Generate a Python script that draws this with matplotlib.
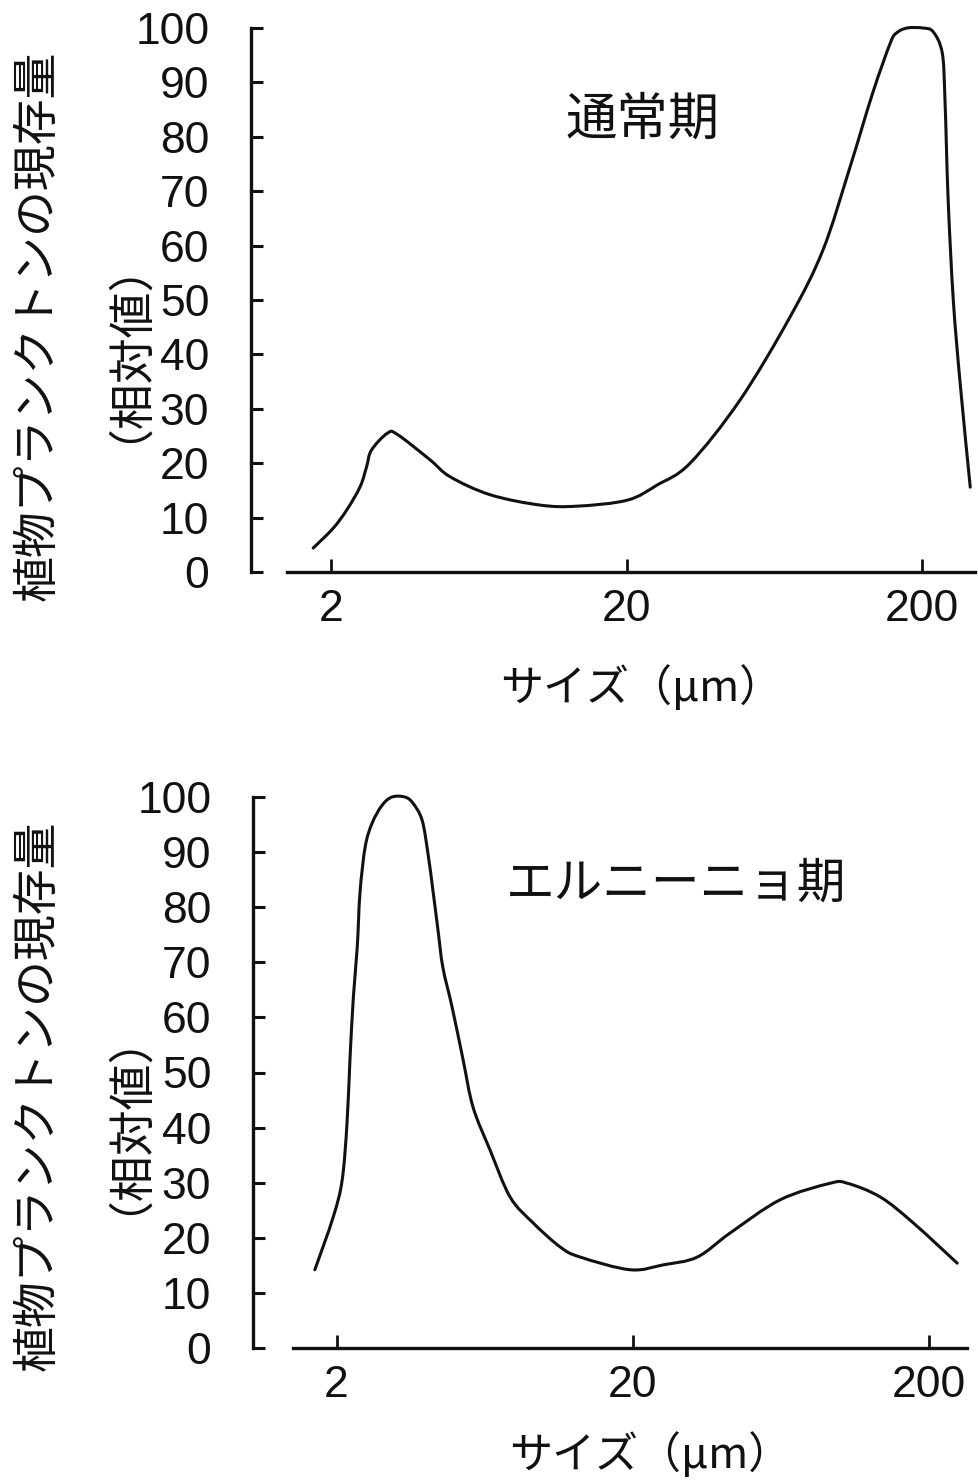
import matplotlib
matplotlib.use("Agg")
import numpy as np
import matplotlib.pyplot as plt
from matplotlib.path import Path
from matplotlib.patches import PathPatch
from matplotlib.ticker import FixedLocator, NullLocator, FixedFormatter

plt.rcParams['font.family'] = ['Liberation Sans', 'Noto Sans CJK JP', 'DejaVu Sans']

# ---- data ----
normal_size = [1.74, 2.03, 2.26, 2.51, 2.64, 2.74, 3.10, 3.35, 4.33, 5.06, 6.91,
               10.2, 13.6, 20.1, 25.4, 32.8, 48.4, 71.5, 92.4, 114, 136, 156,
               164, 178, 201, 218, 234, 239, 245, 255, 269, 291]
normal_val = [4.4, 8.0, 11.4, 15.7, 19.4, 22.4, 25.5, 25.3, 20.6, 17.5, 14.2,
              12.3, 12.1, 13.2, 16.0, 20.0, 31.6, 46.9, 59.2, 74.4, 88.0, 97.2,
              99.1, 100, 100, 99.3, 95.4, 86.8, 68.4, 50.0, 34.7, 15.6]

nino_size = [1.69, 1.95, 2.09, 2.17, 2.22, 2.28, 2.35, 2.40, 2.50, 2.64, 2.85,
             3.08, 3.40, 3.62, 3.89, 4.07, 4.23, 4.40, 4.57, 4.91, 5.35, 5.78,
             6.60, 7.71, 9.22, 11.4, 13.3, 19.6, 25.4, 33.0, 42.7, 62.9, 92.8,
             106, 137, 177, 249]
nino_val = [14.2, 23.8, 30.5, 40.8, 52.3, 63.7, 72.8, 82.6, 91.0, 95.3, 98.5,
            100, 100, 98.9, 95.8, 89.8, 83.1, 75.9, 69.1, 61.9, 52.3, 43.7,
            35.9, 27.4, 22.7, 18.3, 16.5, 14.2, 15.1, 16.5, 20.9, 26.9, 29.9,
            29.9, 27.4, 22.7, 15.4]

x_ticks = [2, 20, 200]
x_tick_labels = ['2', '20', '200']
y_ticks = list(range(0, 101, 10))
y_tick_labels = [str(v) for v in y_ticks]

ylabel_main = '植物プランクトンの現存量'
ylabel_sub = '（相対値）'
xlabel = 'サイズ（μm）'
titles = ['通常期', 'エルニーニョ期']

W, H = 979, 1481
fig = plt.figure(figsize=(W / 100, H / 100), dpi=100)

JP = ['Noto Sans CJK JP', 'DejaVu Sans']
INK = '#111111'


def smooth_curve(ax, xs, ys, **kw):
    """Draw a smooth curve through the read points (Catmull-Rom as Bezier),
    computed in display space so both scales are respected."""
    pts = ax.transData.transform(np.column_stack([xs, ys]))
    n = len(pts)
    ext = np.vstack([pts[0], pts, pts[-1]])
    verts = [pts[0]]
    codes = [Path.MOVETO]
    for i in range(n - 1):
        p0, p1, p2, p3 = ext[i], ext[i + 1], ext[i + 2], ext[i + 3]
        c1 = p1 + (p2 - p0) / 6.0
        c2 = p2 - (p3 - p1) / 6.0
        verts += [c1, c2, p2]
        codes += [Path.CURVE4] * 3
    path = Path(np.array(verts), codes)
    patch = PathPatch(path, fill=False, **kw)
    patch.set_transform(matplotlib.transforms.IdentityTransform())
    fig.add_artist(patch)


panels = [
    dict(l=251, r=975, y0=572, y100=28, xlim=(1.072, 302), xstart=1.42,
         xs=normal_size, ys=normal_val, title=titles[0], tsize=37, tpos=(643, 120),
         xlpos=(641, 688), yl1=(37, 326), yl2=(103, 328)),
    dict(l=253, r=967, y0=1348, y100=797, xlim=(1.045, 268.7), xstart=1.426,
         xs=nino_size, ys=nino_val, title=titles[1], tsize=35, tpos=(676, 884),
         xlpos=(650, 1455), yl1=(37, 1096), yl2=(103, 1100)),
]

axes = []
for p in panels:
    ax = fig.add_axes([p['l'] / W, 1 - p['y0'] / H, (p['r'] - p['l']) / W,
                       (p['y0'] - p['y100']) / H])
    ax.set_xscale('log')
    ax.set_xlim(*p['xlim'])
    ax.set_ylim(0, 100)
    ax.xaxis.set_major_locator(FixedLocator(x_ticks))
    ax.xaxis.set_major_formatter(FixedFormatter(x_tick_labels))
    ax.xaxis.set_minor_locator(NullLocator())
    ax.yaxis.set_major_locator(FixedLocator(y_ticks))
    ax.yaxis.set_major_formatter(FixedFormatter(y_tick_labels))
    for s in ['top', 'right']:
        ax.spines[s].set_visible(False)
    for s in ['left', 'bottom']:
        ax.spines[s].set_linewidth(2.4)
        ax.spines[s].set_color(INK)
    ax.spines['left'].set_bounds(0, 100)
    ax.spines['bottom'].set_bounds(p['xstart'], p['xlim'][1])
    ax.tick_params(axis='y', direction='in', length=8.5, width=2.2,
                   labelsize=32, pad=30, colors=INK)
    ax.tick_params(axis='x', direction='in', length=9.5, width=2.0,
                   labelsize=32, pad=12, colors=INK)
    ax.patch.set_alpha(0)
    axes.append(ax)

    fig.text(p['tpos'][0] / W, 1 - p['tpos'][1] / H, p['title'], family=JP,
             fontsize=p['tsize'], ha='center', va='center', color=INK)
    fig.text(p['xlpos'][0] / W, 1 - p['xlpos'][1] / H, xlabel, family=JP,
             fontsize=31, ha='center', va='center', color=INK)
    fig.text(p['yl1'][0] / W, 1 - p['yl1'][1] / H, ylabel_main, family=JP,
             fontsize=33, rotation=90, ha='center', va='center', color=INK)
    fig.text(p['yl2'][0] / W, 1 - p['yl2'][1] / H, ylabel_sub, family=JP,
             fontsize=33, rotation=90, ha='center', va='center', color=INK)

for ax, p in zip(axes, panels):
    smooth_curve(ax, p['xs'], p['ys'], edgecolor=INK, lw=2.2,
                 capstyle='round', joinstyle='round')

fig.savefig('out.png', dpi=100)
